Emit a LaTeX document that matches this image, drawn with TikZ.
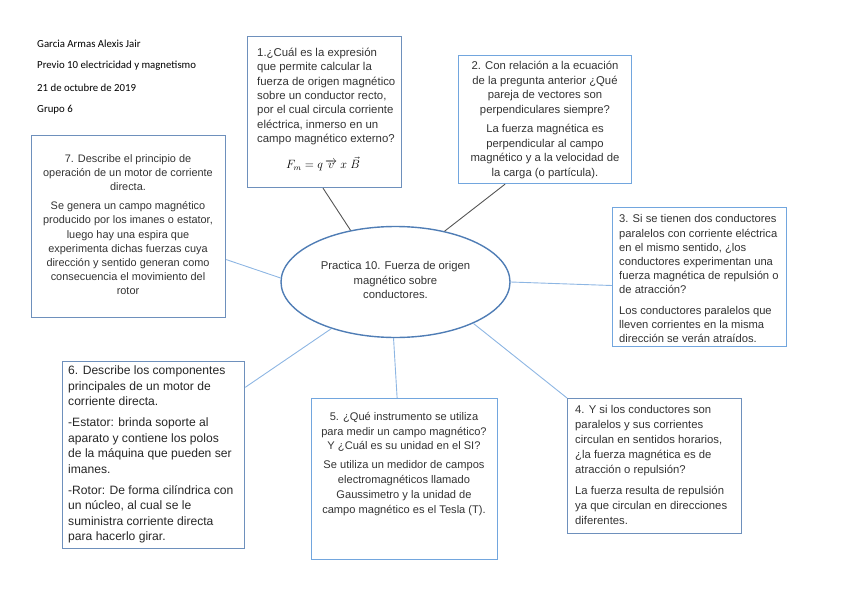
\documentclass[tikz,border=0pt]{standalone}
\usepackage{fontspec}
\setmainfont{Liberation Sans}
\newfontfamily\hdrfont{Carlito}
\usetikzlibrary{shapes.geometric,calc}
\definecolor{boxA}{HTML}{6E90BC}
\definecolor{boxB}{HTML}{72A6DE}
\definecolor{ellc}{HTML}{4F7DB5}
\definecolor{linkblue}{HTML}{8DB6E3}
\definecolor{linkgray}{HTML}{555555}
\definecolor{txtc}{HTML}{333333}
\tikzset{
  frame/.style={draw=boxA, line width=1.2pt, inner sep=0pt, anchor=north west},
  frameb/.style={frame, draw=boxB},
  txt/.style={inner sep=0pt, text=txtc, font=\fontsize{11.3}{14.5}\selectfont},
  hdr/.style={inner sep=0pt, anchor=west, text=black, font=\hdrfont\fontsize{10.8}{12}\selectfont},
  blink/.style={draw=linkblue, line width=0.9pt},
  glink/.style={draw=linkgray, line width=0.9pt},
}
\begin{document}
\begin{tikzpicture}[x=1pt,y=-1pt]
\useasboundingbox (0,0) rectangle (848,599);
% header
\node[hdr] (h1) at (37,44) {Garcia Armas Alexis Jair};
\node[hdr] (h2) at (37,66) {Previo 10 electricidad y magnetismo};
\node[hdr] (h3) at (37,88) {21 de octubre de 2019};
\node[hdr] (h4) at (37,110) {Grupo 6};
% center ellipse
\node[ellipse, draw=ellc, line width=1.4pt, minimum width=229pt, minimum height=111pt, inner sep=0pt] (el) at (395.5,282) {};
\node[txt, align=center] (et) at (395.5,280) {Practica 10. Fuerza de origen\\magnético sobre\\conductores.};
% box 1
\node[frame, minimum width=154pt, minimum height=151pt] (b1) at (247,36) {};
\node[txt, align=left, anchor=north west, font=\fontsize{11.4}{14.3}\selectfont] (t1) at (257,48) {1.¿Cuál es la expresión\\que permite calcular la\\fuerza de origen magnético\\sobre un conductor recto,\\por el cual circula corriente\\eléctrica, inmerso en un\\campo magnético externo?};
\node[inner sep=0pt, font=\fontsize{11.5}{14}\selectfont] (f1) at (323,164) {$F_m = q\,\overrightarrow{v}\;x\;\vec{B}$};
% box 2
\node[frameb, minimum width=173pt, minimum height=128pt] (b2) at (458,55) {};
\node[txt, align=center, anchor=north] (t2) at (545,61) {2. Con relación a la ecuación\\de la pregunta anterior ¿Qué\\pareja de vectores son\\perpendiculares siempre?\\[5pt]La fuerza magnética es\\perpendicular al campo\\magnético y a la velocidad de\\la carga (o partícula).};
% box 3
\node[frameb, minimum width=174pt, minimum height=139pt] (b3) at (612,207) {};
\node[txt, align=left, anchor=north west, font=\fontsize{11.2}{14.2}\selectfont] (t3) at (619,214.5) {3. Si se tienen dos conductores\\paralelos con corriente eléctrica\\en el mismo sentido, ¿los\\conductores experimentan una\\fuerza magnética de repulsión o\\de atracción?\\[6pt]Los conductores paralelos que\\lleven corrientes en la misma\\dirección se verán atraídos.};
% box 7
\node[frame, minimum width=194pt, minimum height=182pt] (b7) at (31,135) {};
\node[txt, align=center, anchor=north, font=\fontsize{10.9}{14.2}\selectfont] (t7) at (128,154) {7. Describe el principio de\\operación de un motor de corriente\\directa.\\[5pt]Se genera un campo magnético\\producido por los imanes o estator,\\luego hay una espira que\\experimenta dichas fuerzas cuya\\dirección y sentido generan como\\consecuencia el movimiento del\\rotor};
% box 6
\node[frame, minimum width=182pt, minimum height=187pt] (b6) at (62,361) {};
\node[txt, align=left, anchor=north west, text=black!85, font=\fontsize{12.1}{15.6}\selectfont] (t6) at (68,365.5) {6. Describe los componentes\\principales de un motor de\\corriente directa.\\[5.5pt]-Estator: brinda soporte al\\aparato y contiene los polos\\de la máquina que pueden ser\\imanes.\\[5pt]-Rotor: De forma cilíndrica con\\un núcleo, al cual se le\\suministra corriente directa\\para hacerlo girar.};
% box 5
\node[frameb, minimum width=186pt, minimum height=161pt] (b5) at (311,398) {};
\node[txt, align=center, anchor=north, font=\fontsize{11.1}{14.8}\selectfont] (t5) at (404,412) {5. ¿Qué instrumento se utiliza\\para medir un campo magnético?\\Y ¿Cuál es su unidad en el SI?\\[4pt]Se utiliza un medidor de campos\\electromagnéticos llamado\\Gaussimetro y la unidad de\\campo magnético es el Tesla (T).};
% box 4
\node[frame, minimum width=174pt, minimum height=135pt] (b4) at (567,398) {};
\node[txt, align=left, anchor=north west, font=\fontsize{11.3}{15}\selectfont] (t4) at (575,405) {4. Y si los conductores son\\paralelos y sus corrientes\\circulan en sentidos horarios,\\¿la fuerza magnética es de\\atracción o repulsión?\\[6pt]La fuerza resulta de repulsión\\ya que circulan en direcciones\\diferentes.};
% connectors
\coordinate (c1) at ($(b1.south west)!0.49!(b1.south east)$);
\coordinate (c2) at ($(b2.south west)!0.27!(b2.south east)$);
\coordinate (c3) at ($(b3.north west)!0.56!(b3.south west)$);
\coordinate (c5) at ($(b5.north west)!0.46!(b5.north east)$);
\coordinate (c6) at ($(b6.north east)!0.14!(b6.south east)$);
\coordinate (c7) at ($(b7.north east)!0.68!(b7.south east)$);
\draw[glink] (c1) -- (el.131);
\draw[glink] (c2) -- (el.46.5);
\draw[blink] (el.-0.5) -- (c3);
\draw[blink] (el.-28.5) -- (b4.north west);
\draw[blink] (el.-92.6) -- (c5);
\draw[blink] (el.-144) -- (c6);
\draw[blink] (el.178) -- (c7);
\end{tikzpicture}
\end{document}
